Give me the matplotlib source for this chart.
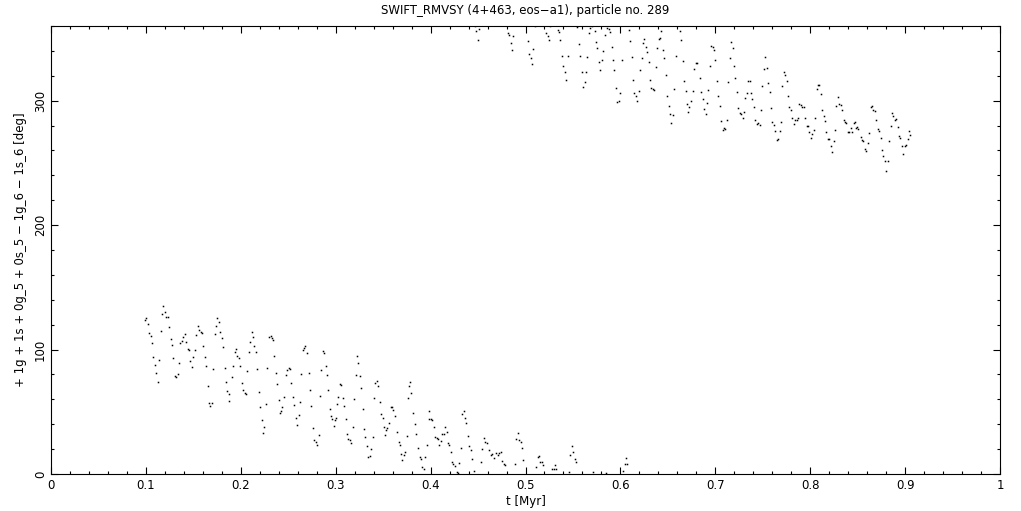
import matplotlib
matplotlib.use("Agg")
import matplotlib.pyplot as plt
from matplotlib.ticker import MultipleLocator

# resonant angle vs time (lower branch 0..135 deg)
t_low = [0.0994, 0.1004, 0.1025, 0.1036, 0.1053, 0.1067, 0.1078, 0.1099, 0.1109, 0.1131,
         0.1141, 0.1162, 0.1173, 0.1183, 0.1204, 0.1215, 0.1236, 0.1246, 0.1267, 0.1278,
         0.1289, 0.1310, 0.1320, 0.1341, 0.1352, 0.1362, 0.1383, 0.1394, 0.1415, 0.1425,
         0.1446, 0.1457, 0.1468, 0.1489, 0.1499, 0.1520, 0.1531, 0.1552, 0.1562, 0.1583,
         0.1594, 0.1604, 0.1625, 0.1636, 0.1657, 0.1668, 0.1678, 0.1699, 0.1710, 0.1731,
         0.1741, 0.1752, 0.1773, 0.1783, 0.1804, 0.1815, 0.1836, 0.1847, 0.1857, 0.1878,
         0.1878, 0.1910, 0.1920, 0.1941, 0.1952, 0.1962, 0.1983, 0.1994, 0.2015, 0.2026,
         0.2047, 0.2057, 0.2068, 0.2089, 0.2099, 0.2120, 0.2131, 0.2141, 0.2163, 0.2173,
         0.2194,
         0.2206, 0.2227, 0.2237, 0.2248, 0.2269, 0.2280, 0.2301, 0.2322, 0.2332, 0.2343,
         0.2353, 0.2374, 0.2385, 0.2406, 0.2416, 0.2427, 0.2437, 0.2459, 0.2480, 0.2490,
         0.2511, 0.2522, 0.2532, 0.2553, 0.2564, 0.2585, 0.2595, 0.2616, 0.2627, 0.2638,
         0.2659, 0.2669, 0.2680, 0.2701, 0.2722, 0.2732, 0.2743, 0.2764, 0.2774, 0.2795,
         0.2806, 0.2827, 0.2838, 0.2848, 0.2869, 0.2880, 0.2901, 0.2911, 0.2922, 0.2943,
         0.2953, 0.2964, 0.2985, 0.2996, 0.3006, 0.3017, 0.3027, 0.3048, 0.3059, 0.3080,
         0.3090, 0.3111, 0.3122, 0.3132, 0.3154, 0.3164, 0.3185, 0.3196, 0.3217, 0.3227,
         0.3238, 0.3259, 0.3269, 0.3290, 0.3301, 0.3311, 0.3333, 0.3343, 0.3364, 0.3375,
         0.3396, 0.3406, 0.3417, 0.3438, 0.3448, 0.3469, 0.3480, 0.3501, 0.3512, 0.3522,
         0.3533, 0.3543, 0.3564, 0.3585, 0.3596, 0.3606, 0.3627, 0.3648, 0.3669, 0.3680,
         0.3691, 0.3701, 0.3722, 0.3733, 0.3754, 0.3764, 0.3775, 0.3785, 0.3796, 0.3817,
         0.3838, 0.3849, 0.3870,
         0.3892, 0.3903, 0.3913, 0.3934, 0.3945, 0.3966, 0.3987, 0.3987, 0.4008, 0.4018,
         0.4040, 0.4050, 0.4071, 0.4082, 0.4092, 0.4113, 0.4124, 0.4145, 0.4155, 0.4176,
         0.4187, 0.4197, 0.4219, 0.4229, 0.4240, 0.4261, 0.4282, 0.4292, 0.4303, 0.4324,
         0.4334, 0.4355, 0.4366, 0.4376, 0.4398, 0.4408, 0.4429, 0.4440, 0.4461, 0.4534,
         0.4545, 0.4566, 0.4577, 0.4598, 0.4619, 0.4640, 0.4650, 0.4671, 0.4692, 0.4713,
         0.4724, 0.4745, 0.4756, 0.4777, 0.4787, 0.4892, 0.4903, 0.4924, 0.4935, 0.4956,
         0.4966, 0.4977, 0.5114, 0.5135, 0.5145, 0.5156, 0.5177, 0.5187, 0.5282, 0.5303,
         0.5314, 0.5324, 0.5461, 0.5472, 0.5493, 0.5503, 0.5524, 0.5535, 0.5714, 0.5851,
         0.6030, 0.6051, 0.6061, 0.6072]
deg_low = [123.8, 125.1, 120.3, 113.1, 110.7, 105.0, 93.8, 87.4, 80.9, 73.7,
           91.4, 114.7, 128.3, 134.8, 129.9, 125.9, 125.9, 117.9, 108.3, 103.4,
           93.0, 78.5, 77.7, 80.1, 89.0, 105.0, 107.2, 109.9, 112.3, 105.8,
           100.2, 99.4, 90.6, 85.7, 93.8, 99.4, 111.5, 118.7, 115.5, 114.1,
           113.1, 102.6, 93.8, 86.6, 70.5, 56.8, 54.7, 56.8, 84.1, 112.3,
           118.7, 125.1, 121.9, 113.9, 109.1, 101.8, 84.9, 73.7, 66.5, 64.0,
           58.4, 77.7, 86.6, 97.8, 100.2, 94.6, 93.0, 86.6, 72.9, 67.3,
           64.9, 64.0, 82.5, 97.8, 105.8, 113.9, 109.9, 102.6, 97.8, 84.1,
           65.7,
           53.6, 43.1, 32.7, 37.5, 56.0, 84.9, 109.8, 110.6, 109.0, 107.4,
           94.5, 80.9, 72.0, 59.2, 48.7, 50.3, 53.6, 61.6, 79.3, 83.3,
           84.9, 84.1, 72.8, 61.6, 55.2, 44.7, 39.1, 47.1, 57.6, 80.1,
           99.4, 101.0, 102.6, 97.0, 80.9, 67.2, 54.4, 36.7, 27.0, 25.4,
           23.0, 31.1, 62.4, 83.3, 98.6, 97.0, 86.5, 79.3, 67.2, 52.0,
           46.3, 43.9, 38.3, 43.1, 44.7, 56.0, 61.6, 72.0, 71.2, 60.8,
           54.4, 43.9, 31.9, 27.8, 27.0, 24.6, 37.5, 60.0, 79.3, 94.5,
           88.9, 78.5, 68.8, 52.0, 35.9, 29.5, 22.2, 13.4, 14.2, 19.8,
           29.5, 60.8, 72.8, 74.5, 70.4, 57.6, 47.9, 44.7, 37.5, 31.1,
           35.1, 36.7, 40.7, 53.6, 53.6, 51.2, 46.3, 33.5, 25.4, 23.0,
           15.8, 11.0, 15.0, 17.4, 30.3, 60.8, 70.4, 73.7, 64.8, 48.7,
           39.9, 31.9, 20.6,
           13.4, 11.8, 5.3, 3.7, 13.4, 23.0, 50.3, 43.9, 43.9, 43.1,
           37.5, 29.4, 28.6, 27.8, 23.0, 26.2, 31.9, 31.9, 37.5, 33.5,
           24.6, 23.0, 17.4, 9.4, 7.7, 6.1, 1.3, 0.5, 8.6, 20.6,
           47.9, 50.3, 44.7, 40.7, 30.3, 22.2, 19.0, 11.8, 2.1, 9.4,
           19.8, 28.6, 25.4, 24.6, 19.0, 15.0, 15.8, 12.6, 16.6, 15.0,
           16.6, 17.4, 10.2, 7.7, 6.9, 7.7, 27.8, 32.7, 27.0, 25.4,
           20.6, 11.0, 5.3, 13.4, 14.2, 9.4, 9.4, 6.9, 3.7, 3.7,
           6.9, 3.7, 1.3, 15.0, 22.2, 17.4, 11.8, 9.4, 1.3, 0.5,
           2.1, 7.7, 12.6, 7.7]

# upper branch (wrapped past 360 deg)
t_high = [0.4471, 0.4482, 0.4503, 0.4513, 0.4819, 0.4829, 0.4850, 0.4861, 0.4871, 0.5029,
          0.5040, 0.5061, 0.5071, 0.5082, 0.5103, 0.5219, 0.5240, 0.5250, 0.5261, 0.5345,
          0.5356, 0.5366, 0.5387, 0.5398, 0.5419, 0.5429, 0.5450, 0.5545, 0.5566, 0.5577,
          0.5598, 0.5608, 0.5629, 0.5640, 0.5650, 0.5671, 0.5682, 0.5703, 0.5735, 0.5745,
          0.5756, 0.5777, 0.5787, 0.5808, 0.5819, 0.5840, 0.5861, 0.5882, 0.5893, 0.5914,
          0.5924, 0.5935, 0.5956, 0.5966, 0.5987, 0.5998, 0.6019, 0.6093, 0.6103, 0.6124,
          0.6135, 0.6145, 0.6166, 0.6177, 0.6198,
          0.6210, 0.6231, 0.6242, 0.6252, 0.6273, 0.6284, 0.6305, 0.6315, 0.6326, 0.6347,
          0.6358, 0.6379, 0.6389, 0.6410, 0.6421, 0.6431, 0.6452, 0.6463, 0.6484, 0.6494,
          0.6515, 0.6526, 0.6537, 0.6558, 0.6568, 0.6589, 0.6631, 0.6642, 0.6663, 0.6673,
          0.6694, 0.6705, 0.6716, 0.6726, 0.6747, 0.6768, 0.6779, 0.6800, 0.6810, 0.6842,
          0.6852, 0.6874, 0.6884, 0.6905, 0.6916, 0.6926, 0.6947, 0.6958, 0.6979, 0.6989,
          0.7000, 0.7021, 0.7031, 0.7053, 0.7063, 0.7084, 0.7095, 0.7105, 0.7126, 0.7137,
          0.7158, 0.7168, 0.7189, 0.7200, 0.7210, 0.7232, 0.7242, 0.7263, 0.7274, 0.7295,
          0.7305, 0.7316, 0.7337, 0.7347, 0.7368, 0.7379, 0.7389, 0.7411, 0.7421, 0.7442,
          0.7453, 0.7474, 0.7484, 0.7495, 0.7516, 0.7526, 0.7547, 0.7558, 0.7579, 0.7589,
          0.7600, 0.7621, 0.7632, 0.7653, 0.7663,
          0.7685, 0.7696, 0.7706, 0.7727, 0.7738, 0.7759, 0.7769, 0.7780, 0.7801, 0.7811,
          0.7833, 0.7843, 0.7864, 0.7875, 0.7885, 0.7906, 0.7917, 0.7938, 0.7948, 0.7969,
          0.7980, 0.7990, 0.8012, 0.8022, 0.8043, 0.8054, 0.8075, 0.8085, 0.8096, 0.8117,
          0.8127, 0.8148, 0.8159, 0.8169, 0.8191, 0.8201, 0.8222, 0.8233, 0.8254, 0.8264,
          0.8275, 0.8296, 0.8306, 0.8327, 0.8338, 0.8359, 0.8370, 0.8380, 0.8401, 0.8412,
          0.8433, 0.8443, 0.8464, 0.8475, 0.8485, 0.8496, 0.8506, 0.8538, 0.8549, 0.8559,
          0.8580, 0.8591, 0.8612, 0.8622, 0.8643, 0.8654, 0.8664, 0.8685, 0.8696, 0.8717,
          0.8728, 0.8749, 0.8759, 0.8770, 0.8791, 0.8801, 0.8822, 0.8833, 0.8854, 0.8864,
          0.8875, 0.8896, 0.8907, 0.8928, 0.8938, 0.8949, 0.8970, 0.8980, 0.9001, 0.9012,
          0.9033, 0.9043, 0.9054]
deg_high = [359.7, 355.7, 348.5, 357.3, 354.1, 352.5, 346.0, 340.4, 351.7, 347.7,
            337.2, 334.0, 329.2, 341.2, 359.7, 354.1, 351.7, 348.5, 359.7, 356.5,
            354.9, 348.5, 335.6, 327.6, 322.7, 316.3, 335.6, 358.9, 345.2, 335.6,
            322.7, 310.7, 314.7, 322.7, 334.8, 354.1, 358.1, 359.7, 355.7, 346.8,
            342.0, 330.8, 324.3, 332.4, 339.6, 352.5, 358.1, 357.3, 354.9, 342.8,
            332.4, 324.3, 309.9, 298.6, 299.4, 305.9, 332.4, 356.5, 347.7, 334.8,
            316.3, 305.9, 303.5, 299.4, 307.5,
            324.3, 334.0, 346.0, 349.3, 342.8, 338.8, 330.8, 316.3, 309.9, 309.1,
            308.3, 326.8, 342.0, 349.3, 350.1, 355.7, 340.4, 334.0, 320.3, 303.5,
            295.4, 289.0, 281.7, 288.2, 309.1, 335.6, 355.7, 348.5, 331.6, 315.5,
            307.5, 297.0, 290.6, 294.6, 299.4, 307.5, 325.1, 330.0, 330.0, 317.9,
            306.7, 301.0, 293.0, 289.0, 297.8, 308.3, 327.6, 343.6, 342.8, 340.4,
            332.4, 315.5, 303.5, 295.4, 283.4, 276.1, 277.7, 276.9, 284.2, 314.7,
            334.0, 346.8, 342.0, 327.6, 317.9, 306.7, 293.8, 289.8, 289.0, 285.8,
            290.6, 301.8, 305.9, 315.5, 315.5, 305.9, 301.0, 294.6, 284.2, 280.9,
            281.7, 280.1, 292.2, 311.5, 325.1, 334.8, 326.0, 313.9, 306.7, 293.8,
            282.6, 280.1, 275.3, 268.1, 268.9,
            275.4, 282.6, 311.6, 322.8, 320.4, 315.6, 303.5, 294.7, 292.3, 285.9,
            281.0, 284.2, 284.2, 285.9, 297.1, 296.3, 294.7, 294.7, 285.9, 279.4,
            279.4, 274.6, 269.8, 273.0, 276.2, 285.9, 309.2, 312.4, 312.4, 305.1,
            292.3, 287.5, 283.4, 274.6, 269.0, 269.0, 263.4, 258.5, 267.4, 276.2,
            295.5, 302.7, 297.1, 296.3, 292.3, 284.2, 282.6, 281.8, 274.6, 274.6,
            277.8, 274.6, 281.8, 282.6, 277.8, 278.6, 277.0, 270.6, 268.2, 267.4,
            260.9, 259.3, 265.8, 273.8, 294.7, 295.5, 292.3, 291.5, 284.2, 277.0,
            275.4, 269.8, 260.1, 255.3, 251.3, 243.3, 251.3, 267.4, 279.4, 289.9,
            287.5, 284.2, 285.0, 278.6, 271.4, 269.8, 263.4, 256.9, 263.4, 264.2,
            269.0, 275.4, 272.2]

x_ticks = [0, 0.1, 0.2, 0.3, 0.4, 0.5, 0.6, 0.7, 0.8, 0.9, 1]
x_labels = ["0", "0.1", "0.2", "0.3", "0.4", "0.5", "0.6", "0.7", "0.8", "0.9", "1"]
y_ticks = [0, 100, 200, 300]

plt.rcParams['font.family'] = ['DejaVu Sans']
fig = plt.figure(figsize=(10.21, 5.11), dpi=100)
ax = fig.add_axes([0.0500, 0.0724, 0.9294, 0.8767])

ax.plot(t_low, deg_low, 's', color='black', ms=1.1, mew=0)
ax.plot(t_high, deg_high, 's', color='black', ms=1.1, mew=0)

ax.set_xlim(0, 1)
ax.set_ylim(0, 360)
ax.set_xticks(x_ticks)
ax.set_xticklabels(x_labels)
ax.set_yticks(y_ticks)
ax.set_yticklabels([str(v) for v in y_ticks], rotation=90, va='center')
ax.xaxis.set_minor_locator(MultipleLocator(0.02))
ax.yaxis.set_minor_locator(MultipleLocator(20))
ax.tick_params(which='both', direction='in', top=True, right=True, labelsize=8.5, width=0.8)
ax.tick_params(which='major', length=5)
ax.tick_params(which='minor', length=2.5)
ax.tick_params(axis='y', pad=3)
for s in ax.spines.values():
    s.set_linewidth(0.8)

ax.set_xlabel('t [Myr]', fontsize=8.5, labelpad=2)
ax.set_ylabel('+ 1g + 1s + 0g_5 + 0s_5 \u2212 1g_6 \u2212 1s_6 [deg]', fontsize=8.5, labelpad=5)
ax.set_title('SWIFT_RMVSY (4+463, eos\u2212a1), particle no. 289', fontsize=8.5, pad=9)

fig.savefig('out.png', dpi=100)
